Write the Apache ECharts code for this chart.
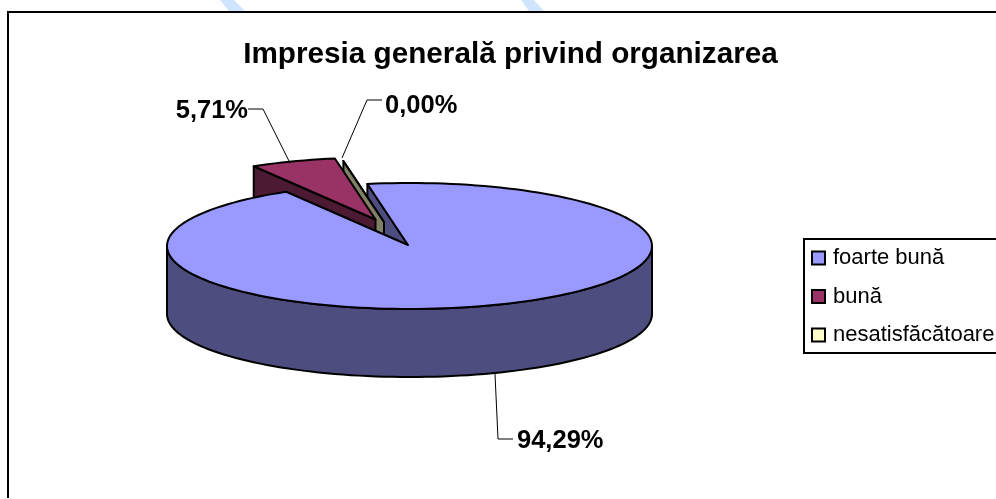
<!DOCTYPE html>
<html><head><meta charset="utf-8">
<style>html,body{margin:0;padding:0;background:#fff}#c{width:996px;height:499px}</style>
<script src="https://cdn.jsdelivr.net/npm/echarts@6/dist/echarts.min.js"></script>
</head><body><div id="c"></div>
<script>
var categories = ['foarte bună', 'bună', 'nesatisfăcătoare'];
var values = [94.29, 5.71, 0.00];
var titleText = 'Impresia generală privind organizarea';
var startAngle = -10;
var topColors = ['#9999ff', '#993366', '#ffffcc'];
var wallColors = ['#4d4d80', '#4d1a33', '#808066'];
var offsets = [[0, 0], [-32.5, -25.5], [-24, -23]];
var labelAnchors = [
  {line: [[495, 374], [498, 439], [513, 439]], x: 517, y: 441, align: 'left'},
  {line: [[290, 163], [263, 109], [248, 109]], x: 248, y: 111, align: 'right'},
  {line: [[342, 158], [367, 100], [382, 100]], x: 385, y: 106, align: 'left'}
];
var cx = 409.5, cy = 246, rx = 242.5, ry = 63, depth = 68;
var apexShift = [-1.5, -1];
var INK = '#000';

function pct(v) { return v.toFixed(2).replace('.', ',') + '%'; }
function pt(i, deg) {
  var a = deg * Math.PI / 180;
  return [cx + offsets[i][0] + rx * Math.sin(a), cy + offsets[i][1] - ry * Math.cos(a)];
}
function down(p) { return [p[0], p[1] + depth]; }
function arc(i, a0, a1) {
  var pts = [], n = Math.max(1, Math.ceil(Math.abs(a1 - a0) / 2));
  for (var k = 0; k <= n; k++) pts.push(pt(i, a0 + (a1 - a0) * k / n));
  return pts;
}
function poly(points, fill, z2) {
  return {type: 'polygon', z2: z2, shape: {points: points},
    style: {fill: fill, stroke: INK, lineWidth: 2, lineJoin: 'round'}};
}
var total = values.reduce(function (a, b) { return a + b; }, 0);

function renderSlice(params, api) {
  var i = params.seriesIndex, v = api.value(0), before = 0;
  for (var j = 0; j < i; j++) before += values[j];
  var a0 = startAngle + before / total * 360, a1 = a0 + v / total * 360;
  var apex = [cx + offsets[i][0] + apexShift[0], cy + offsets[i][1] + apexShift[1]];
  var rim = arc(i, a0, a1), first = rim[0], last = rim[rim.length - 1];
  var kids = [];
  if (i === 0) {
    var front = arc(0, 90, 270);
    kids.push(poly(front.concat(front.slice().reverse().map(down)), wallColors[0], 5));
    kids.push(poly([apex, first, down(first), down(apex)], wallColors[0], 2));
    kids.push(poly([apex].concat(rim), topColors[0], 30));
  } else if (i === 1) {
    kids.push(poly([first, apex, down(apex), down(first)], wallColors[1], 12));
    kids.push(poly([apex].concat(rim), topColors[1], 14));
  } else {
    kids.push(poly([last, apex, down(apex), down(last)], wallColors[2], 8));
    kids.push(poly([apex].concat(rim), topColors[2], 9));
  }
  var L = labelAnchors[i];
  kids.push({type: 'polyline', z2: 40, shape: {points: L.line}, style: {fill: 'none', stroke: INK, lineWidth: 1}});
  kids.push({type: 'text', z2: 41, x: L.x, y: L.y, style: {
    text: pct(v), fill: '#000', align: L.align, verticalAlign: 'middle',
    font: 'bold 25.5px "Liberation Sans", Arial, sans-serif'}});
  return {type: 'group', children: kids};
}

var series = categories.map(function (name, i) {
  return {
    type: 'custom', name: name, coordinateSystem: 'none', silent: true, animation: false,
    clip: false, renderItem: renderSlice, data: [[values[i]]],
    itemStyle: {color: topColors[i]}
  };
});

var chart = echarts.init(document.getElementById('c'), null, {renderer: 'canvas'});
chart.setOption({
  backgroundColor: '#fff',
  animation: false,
  title: {text: titleText, left: 505.5, top: 35, textAlign: 'center',
    textStyle: {fontFamily: '"Liberation Sans", Arial, sans-serif', fontWeight: 'bold', fontSize: 29.7, color: '#000'}},
  legend: {
    orient: 'vertical', left: 804, top: 239, data: categories, selectedMode: false,
    backgroundColor: '#fff', borderColor: '#000', borderWidth: 2,
    padding: [8, 20, 7, 7], itemGap: 16.5, itemWidth: 13, itemHeight: 13,
    icon: 'rect', itemStyle: {borderColor: '#000', borderWidth: 2},
    textStyle: {fontFamily: '"Liberation Sans", Arial, sans-serif', fontSize: 22, color: '#000', padding: [0, 0, 0, 3]}
  },
  graphic: [
    {type: 'polygon', z: -1, shape: {points: [[220, 0], [234, 0], [245, 11], [229, 11]]}, style: {fill: '#cfe5ff'}},
    {type: 'polygon', z: -1, shape: {points: [[521, 0], [534, 0], [544, 11], [529, 11]]}, style: {fill: '#cfe5ff'}},
    {type: 'polyline', z: 0, shape: {points: [[8, 498], [8, 12], [996, 12]]}, style: {fill: 'none', stroke: '#000', lineWidth: 2}}
  ],
  series: series
});
</script></body></html>
